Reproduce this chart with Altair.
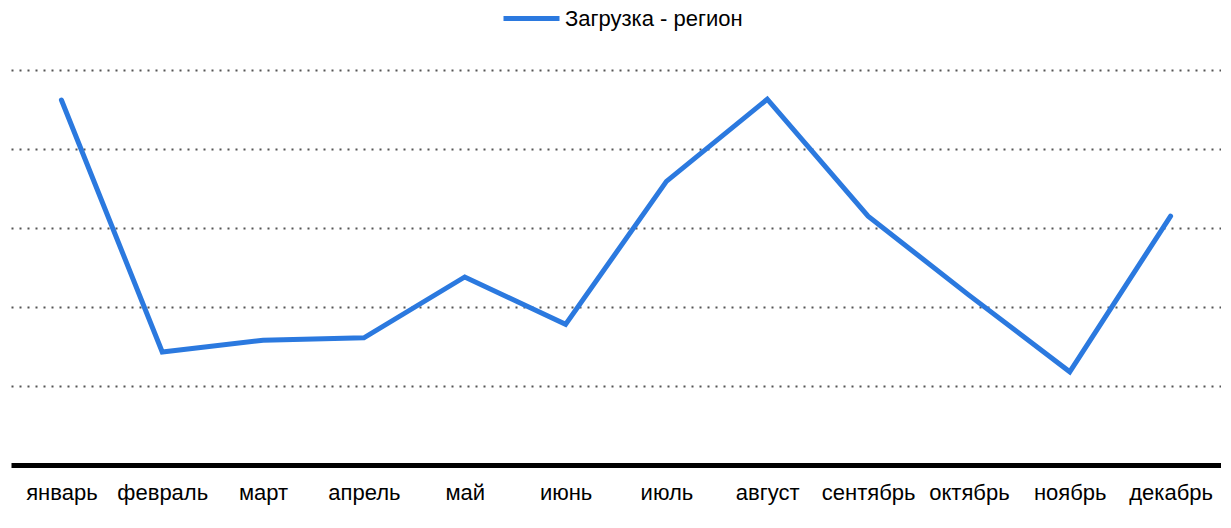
import altair as alt
import pandas as pd

months = ["январь", "февраль", "март", "апрель", "май", "июнь",
          "июль", "август", "сентябрь", "октябрь", "ноябрь", "декабрь"]
values = [4.62, 1.43, 1.58, 1.61, 2.38, 1.78, 3.59, 4.63, 3.15, 2.15, 1.18, 3.15]
series = ["Загрузка - регион"] * len(months)

df = pd.DataFrame({"month": months, "value": values, "series": series})

FONT = "Liberation Sans"

chart = alt.Chart(df).mark_line(strokeWidth=5, strokeCap="round", strokeJoin="miter").encode(
    x=alt.X("month:N", sort=months, title=None,
            scale=alt.Scale(type="point", padding=0.5),
            axis=alt.Axis(labelAngle=0, labelFontSize=22, labelFont=FONT, labelColor="black",
                          labelPadding=17, ticks=False, domain=True, domainColor="black",
                          domainWidth=5, grid=False)),
    y=alt.Y("value:Q", title=None, scale=alt.Scale(domain=[0, 5], nice=False, zero=True),
            axis=alt.Axis(values=[1, 2, 3, 4, 5], labels=False, ticks=False, domain=False,
                          grid=True, gridColor="#555555", gridWidth=2, gridDash=[2, 6])),
    color=alt.Color("series:N", scale=alt.Scale(range=["#2B79DF"]),
                    legend=alt.Legend(title=None, orient="none", legendX=490, legendY=-82,
                                      symbolType="stroke", symbolSize=3136, symbolStrokeWidth=5,
                                      labelFontSize=22, labelFont=FONT, labelColor="black",
                                      labelLimit=400, padding=0, symbolOffset=0, labelOffset=3)),
).properties(
    width=1210, height=395,
    autosize=alt.AutoSizeParams(type="none"),
    padding={"left": 3, "top": 62, "right": 0, "bottom": 55},
).configure_view(stroke=None)

chart.save("out.html", embed_options={"renderer": "svg", "actions": False})
